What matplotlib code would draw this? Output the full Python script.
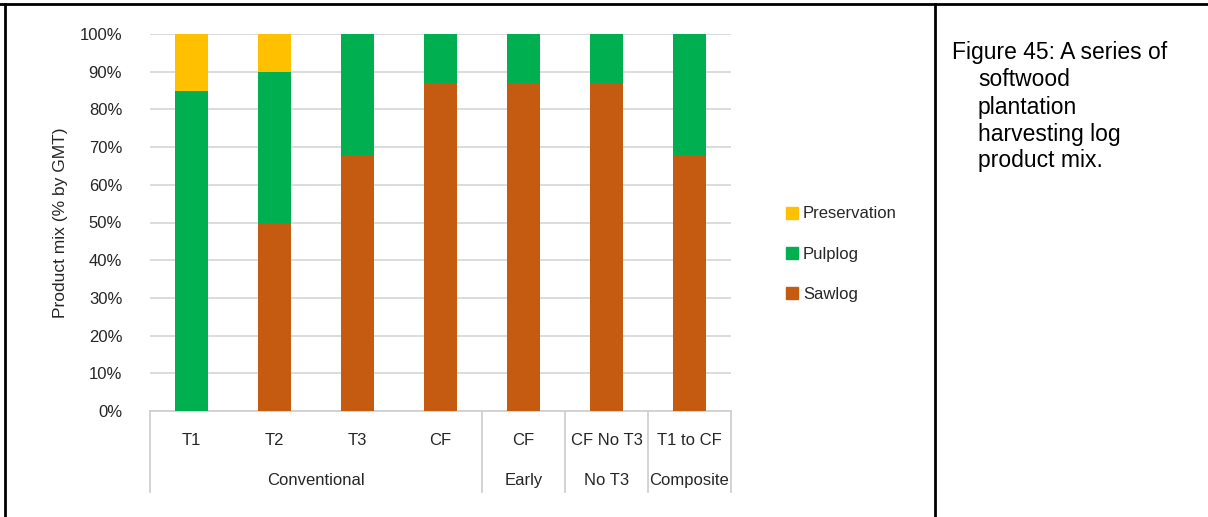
import matplotlib
matplotlib.use("Agg")
import matplotlib.pyplot as plt
from matplotlib.lines import Line2D
from matplotlib.patches import Patch
import numpy as np

plt.rcParams['font.family'] = ['Liberation Sans', 'DejaVu Sans']

categories = ["T1", "T2", "T3", "CF", "CF", "CF No T3", "T1 to CF"]
groups = ["Conventional", "Early", "No T3", "Composite"]
group_spans = [(0, 3), (4, 4), (5, 5), (6, 6)]
sawlog = [0, 50, 68, 87, 87, 87, 68]
pulplog = [85, 40, 32, 13, 13, 13, 32]
preservation = [15, 10, 0, 0, 0, 0, 0]
yticks = [0, 10, 20, 30, 40, 50, 60, 70, 80, 90, 100]
ytick_labels = [f"{v}%" for v in yticks]
caption_lines = ["Figure 45: A series of", "softwood", "plantation", "harvesting log", "product mix."]

C_SAW = "#C55A11"
C_PULP = "#00B050"
C_PRES = "#FFC000"

W, H = 1208, 517
DPI = 100
fig = plt.figure(figsize=(W / DPI, H / DPI), dpi=DPI)
fig.patch.set_facecolor("white")

# axes placement in pixel coords
ax_l, ax_r, ax_b, ax_t = 150, 731, 411, 34
ax = fig.add_axes([ax_l / W, 1 - ax_b / H, (ax_r - ax_l) / W, (ax_b - ax_t) / H])

x = np.arange(len(categories))
bw = 0.40
saw = np.array(sawlog)
pulp = np.array(pulplog)
pres = np.array(preservation)
ax.bar(x, saw, bw, color=C_SAW, label="Sawlog", zorder=3)
ax.bar(x, pulp, bw, bottom=saw, color=C_PULP, label="Pulplog", zorder=3)
ax.bar(x, pres, bw, bottom=saw + pulp, color=C_PRES, label="Preservation", zorder=3)

ax.set_xlim(-0.5, len(categories) - 0.5)
ax.set_ylim(0, 100)
ax.set_yticks(yticks)
ax.set_yticklabels(ytick_labels, fontsize=12, color="#262626")
ax.tick_params(axis="y", length=0, pad=20)
ax.yaxis.grid(True, color="#d9d9d9", linewidth=1.3, zorder=0)
ax.set_axisbelow(True)
for s in ["top", "right", "left"]:
    ax.spines[s].set_visible(False)
ax.spines["bottom"].set_color("#d0d0d0")
ax.spines["bottom"].set_linewidth(1.3)

ax.set_xticks(x)
ax.set_xticklabels(categories, fontsize=12, color="#262626")
ax.tick_params(axis="x", length=0, pad=16)

ax.set_ylabel("Product mix (% by GMT)", fontsize=12.5, color="#262626")
ax.yaxis.set_label_coords((68 - ax_l) / (ax_r - ax_l), 0.5)

# group labels & separators
trans = ax.get_xaxis_transform()
ax_h = ax_b - ax_t
y_grp = -(485 - ax_b) / ax_h
y_sep = -(492 - ax_b) / ax_h
for name, (a, b) in zip(groups, group_spans):
    ax.text((a + b) / 2, y_grp, name, transform=trans, ha="center", va="baseline",
            fontsize=12, color="#262626")
for bx in [-0.5, 3.5, 4.5, 5.5, 6.5]:
    ax.plot([bx, bx], [0, y_sep], transform=trans, color="#d0d0d0", linewidth=1.3,
            clip_on=False, zorder=1)

# legend
handles = [Patch(color=C_PRES, label="Preservation"),
           Patch(color=C_PULP, label="Pulplog"),
           Patch(color=C_SAW, label="Sawlog")]
fig.legend(handles=handles, loc="center left", bbox_to_anchor=(778 / W, 1 - 254 / H),
           frameon=False, fontsize=12, handlelength=0.7, handleheight=0.7,
           handletextpad=0.3, labelspacing=1.5, borderpad=0, labelcolor="#262626")

# frame lines
lw = 2.0
fig.add_artist(Line2D([0, 1], [1 - 4 / H, 1 - 4 / H], transform=fig.transFigure,
                      color="black", linewidth=lw))
fig.add_artist(Line2D([5 / W, 5 / W], [0, 1 - 4 / H], transform=fig.transFigure,
                      color="black", linewidth=lw))
fig.add_artist(Line2D([935 / W, 935 / W], [0, 1 - 4 / H], transform=fig.transFigure,
                      color="black", linewidth=lw))

# caption
cap_y = [53, 80, 107, 134, 161]
for i, (line, yy) in enumerate(zip(caption_lines, cap_y)):
    xx = 952 if i == 0 else 978
    fig.text(xx / W, 1 - yy / H, line, ha="left", va="center", fontsize=16.5, color="black")

fig.savefig("out.png", dpi=DPI, facecolor="white")
